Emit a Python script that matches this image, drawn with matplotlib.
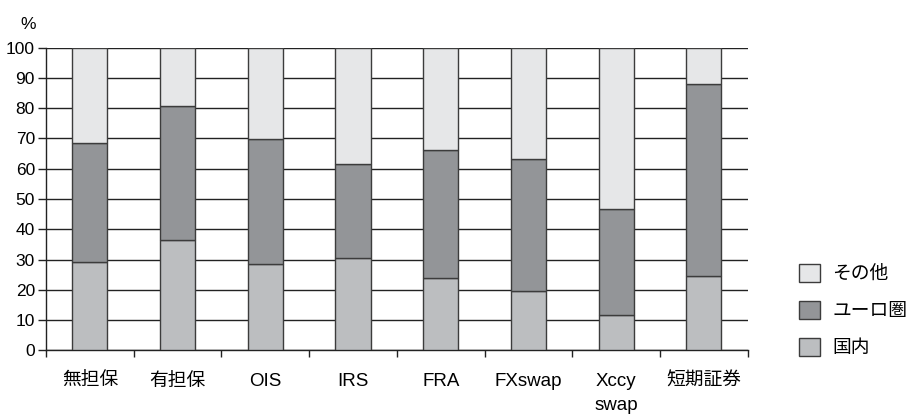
import matplotlib
matplotlib.use("Agg")
import matplotlib.pyplot as plt
from matplotlib.patches import Patch
import numpy as np

plt.rcParams['font.family'] = ['Liberation Sans', 'Noto Sans CJK JP', 'DejaVu Sans']
plt.rcParams['font.size'] = 12

categories = ['無担保', '有担保', 'OIS', 'IRS', 'FRA', 'FXswap', 'Xccy\nswap', '短期証券']
domestic = [29.3, 36.5, 28.6, 30.6, 23.8, 19.6, 11.6, 24.7]
euro = [39.3, 44.2, 41.3, 30.9, 42.3, 43.6, 35.0, 63.2]
other = [100 - d - e for d, e in zip(domestic, euro)]

series_names = ['国内', 'ユーロ圏', 'その他']
series_colors = ['#bcbec0', '#939598', '#e6e7e8']
edge = '#3c3c3c'

fig = plt.figure(figsize=(9.06, 4.15), dpi=100)
ax = fig.add_axes([0.0508, 0.1559, 0.7745, 0.7291])

x = np.arange(len(categories))
bottom = np.zeros(len(categories))
for vals, color in zip([domestic, euro, other], series_colors):
    ax.bar(x, vals, width=0.4, bottom=bottom, color=color, edgecolor=edge,
           linewidth=1.0, zorder=3)
    bottom += np.array(vals)

ax.set_xlim(-0.5, len(categories) - 0.5)
ax.set_ylim(0, 100)
ax.set_yticks(np.arange(0, 101, 10))
ax.yaxis.grid(True, color='#222222', linewidth=1.0, zorder=0)
ax.set_axisbelow(True)

for side in ['top', 'right']:
    ax.spines[side].set_visible(False)
for side in ['left', 'bottom']:
    ax.spines[side].set_color('#222222')
    ax.spines[side].set_linewidth(1.0)

ax.set_xticks(x)
ax.set_xticklabels(categories)
ax.set_xticks(np.arange(-0.5, len(categories)), minor=True)
ax.tick_params(axis='x', which='major', length=0, pad=16, labelsize=13.5)
ax.tick_params(axis='x', which='minor', length=5, width=1.0, color='#222222')
ax.tick_params(axis='y', length=6, width=1.0, pad=2, color='#222222', labelsize=12.5)
for lbl in ax.get_xticklabels():
    lbl.set_linespacing(1.6)

fig.text(0.031, 0.94, '%', ha='center', va='center', fontsize=12.5)

handles = [Patch(facecolor=c, edgecolor=edge, linewidth=1.0)
           for c in series_colors]
fig.legend(handles[::-1], series_names[::-1], loc='center left',
           bbox_to_anchor=(0.872, 0.252), frameon=False, borderpad=0,
           handlelength=1.1, handleheight=1.1, handletextpad=0.65,
           labelspacing=0.95, fontsize=13.5)

fig.savefig('out.png', dpi=100)
